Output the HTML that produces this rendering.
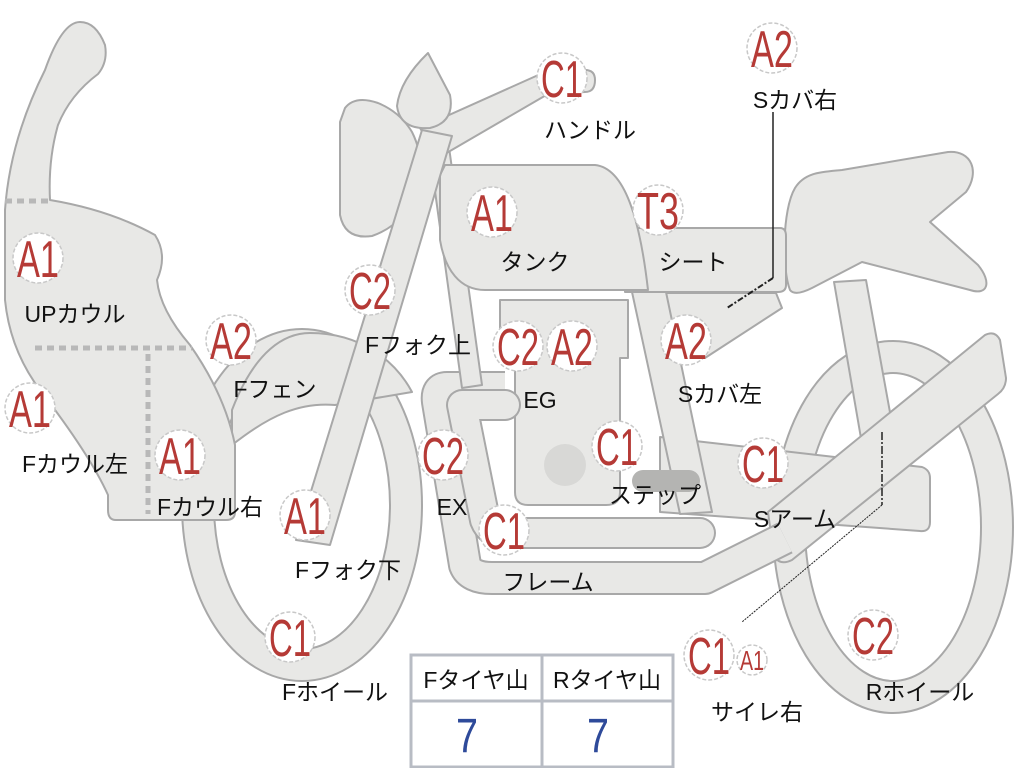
<!DOCTYPE html>
<html><head><meta charset="utf-8"><style>
html,body{margin:0;padding:0;background:#fff;}
svg{display:block}
.s{fill:#e8e8e6;stroke:#a8a8a8;stroke-width:2;stroke-linejoin:round}
.b circle{fill:#fff;stroke:#c8c8c8;stroke-width:1.5;stroke-dasharray:4 2}
.b text{fill:#b53a36;font-family:"Liberation Sans",sans-serif;font-size:52px;text-anchor:middle}
.l{fill:#111;font-family:"Liberation Sans","Noto Sans CJK JP",sans-serif;font-size:23px;text-anchor:middle}
</style></head><body>
<svg width="1024" height="768" viewBox="0 0 1024 768" xmlns="http://www.w3.org/2000/svg">
<ellipse cx="302" cy="505" rx="104" ry="160" fill="none" stroke="#a8a8a8" stroke-width="34"/>
<ellipse cx="302" cy="505" rx="104" ry="160" fill="none" stroke="#e8e8e6" stroke-width="30"/>
<ellipse cx="893" cy="527" rx="104" ry="170" fill="none" stroke="#a8a8a8" stroke-width="34"/>
<ellipse cx="893" cy="527" rx="104" ry="170" fill="none" stroke="#e8e8e6" stroke-width="30"/>
<path class="s" d="M232,445 L232,410 C255,350 285,333 310,333 C360,333 395,360 412,392 L335,405 C300,402 270,415 232,445 Z"/>
<path class="s" d="M834,282 L866,280 L895,440 L862,444 Z"/>
<path class="s" d="M790,290 C782,270 782,210 795,188 C805,172 822,172 842,170 L948,152 C972,150 980,172 966,192 L930,222 L978,265 C992,282 988,296 970,290 L862,262 L812,288 C800,294 793,294 790,290 Z"/>
<path class="s" d="M625,228 L780,228 Q786,228 786,236 L786,285 Q786,292 778,292 L625,292 Z"/>
<path class="s" d="M666,293 L776,293 L782,308 L705,358 L670,350 Z"/>
<path class="s" d="M660,437 L922,467 Q930,470 930,478 L930,522 Q930,532 920,531 L660,512 Z"/>
<path class="s" d="M632,292 L666,292 L712,512 L680,514 Z"/>
<path class="s" d="M768,512 L985,335 Q995,330 1000,340 L1006,378 Q1006,388 998,394 L792,560 Q780,566 774,556 Z"/>
<path class="s" d="M500,300 L628,300 L628,358 L620,358 L620,492 Q620,505 606,505 L528,505 Q515,505 515,492 L515,358 L500,358 Z"/>
<circle cx="565" cy="465" r="21" fill="#d8d8d6"/>
<rect x="632" y="470" width="68" height="22" rx="11" fill="#b4b4b2"/>
<path d="M505,388 L447,388 Q436,388 438,402 L465,565 Q470,578 492,578 L705,578 L785,538" fill="none" stroke="#a8a8a8" stroke-width="34" stroke-linejoin="round"/>
<path d="M505,388 L447,388 Q436,388 438,402 L465,565 Q470,578 492,578 L705,578 L785,538" fill="none" stroke="#e8e8e6" stroke-width="30" stroke-linejoin="round"/>
<path d="M505,405 L462,405 L485,520 Q490,533 505,533 L700,533" fill="none" stroke="#a8a8a8" stroke-width="32" stroke-linecap="round" stroke-linejoin="round"/>
<path d="M505,405 L462,405 L485,520 Q490,533 505,533 L700,533" fill="none" stroke="#e8e8e6" stroke-width="28" stroke-linecap="round" stroke-linejoin="round"/>
<path class="s" d="M428,140 L448,140 L482,385 L462,388 Z"/>
<path class="s" d="M445,165 L595,165 C625,168 640,220 648,290 L485,290 C460,290 445,270 440,240 L440,175 Z"/>
<path class="s" d="M420,128 L545,72 L585,70 Q595,70 595,80 Q595,92 585,92 L548,94 L438,158 Z"/>
<path class="s" d="M345,108 Q355,95 378,103 Q400,112 412,132 Q426,160 418,192 Q402,226 372,236 Q345,240 340,215 L340,122 Z"/>
<path class="s" d="M428,53 L450,95 Q455,122 430,128 Q400,130 397,106 Q400,80 428,53 Z"/>
<path class="s" d="M422,130 L452,136 L330,545 L296,540 Z"/>
<path class="s" d="M80,22 Q96,22 105,45 Q108,62 98,74 Q70,95 58,125 Q48,160 50,200 Q110,210 155,235 Q168,255 157,280 Q160,310 190,345 Q225,395 235,445 L235,512 Q235,520 226,520 L116,520 Q108,520 108,510 L108,495 Q90,455 40,390 Q10,350 5,300 L5,210 Q10,140 45,70 Q62,22 80,22 Z"/>
<g stroke="#b8b8b8" stroke-width="5" stroke-dasharray="7 5" fill="none">
<line x1="5" y1="201" x2="50" y2="201"/>
<line x1="35" y1="348" x2="192" y2="348"/>
<line x1="148" y1="354" x2="148" y2="514"/>
</g>
<polyline points="773,112 773,278" fill="none" stroke="#222" stroke-width="1.5"/>
<line x1="773" y1="278" x2="727" y2="308" stroke="#222" stroke-width="2" stroke-dasharray="6 2 2 2"/>
<line x1="882" y1="432" x2="882" y2="505" stroke="#222" stroke-width="1.5" stroke-dasharray="8 2 2 2"/>
<line x1="882" y1="505" x2="742" y2="622" stroke="#222" stroke-width="1" stroke-dasharray="2 1"/>
<g class="b">
<circle cx="772" cy="48" r="25"/><text x="772" y="67" textLength="42" lengthAdjust="spacingAndGlyphs">A2</text>
<circle cx="562" cy="78" r="25"/><text x="562" y="97" textLength="42" lengthAdjust="spacingAndGlyphs">C1</text>
<circle cx="492" cy="212" r="25"/><text x="492" y="231" textLength="42" lengthAdjust="spacingAndGlyphs">A1</text>
<circle cx="658" cy="210" r="25"/><text x="658" y="229" textLength="42" lengthAdjust="spacingAndGlyphs">T3</text>
<circle cx="38" cy="258" r="25"/><text x="38" y="277" textLength="42" lengthAdjust="spacingAndGlyphs">A1</text>
<circle cx="370" cy="290" r="25"/><text x="370" y="309" textLength="42" lengthAdjust="spacingAndGlyphs">C2</text>
<circle cx="231" cy="340" r="25"/><text x="231" y="359" textLength="42" lengthAdjust="spacingAndGlyphs">A2</text>
<circle cx="518" cy="346" r="25"/><text x="518" y="365" textLength="42" lengthAdjust="spacingAndGlyphs">C2</text>
<circle cx="572" cy="346" r="25"/><text x="572" y="365" textLength="42" lengthAdjust="spacingAndGlyphs">A2</text>
<circle cx="686" cy="340" r="25"/><text x="686" y="359" textLength="42" lengthAdjust="spacingAndGlyphs">A2</text>
<circle cx="30" cy="408" r="25"/><text x="30" y="427" textLength="42" lengthAdjust="spacingAndGlyphs">A1</text>
<circle cx="617" cy="446" r="25"/><text x="617" y="465" textLength="42" lengthAdjust="spacingAndGlyphs">C1</text>
<circle cx="443" cy="455" r="25"/><text x="443" y="474" textLength="42" lengthAdjust="spacingAndGlyphs">C2</text>
<circle cx="180" cy="455" r="25"/><text x="180" y="474" textLength="42" lengthAdjust="spacingAndGlyphs">A1</text>
<circle cx="763" cy="463" r="25"/><text x="763" y="482" textLength="42" lengthAdjust="spacingAndGlyphs">C1</text>
<circle cx="305" cy="515" r="25"/><text x="305" y="534" textLength="42" lengthAdjust="spacingAndGlyphs">A1</text>
<circle cx="504" cy="530" r="25"/><text x="504" y="549" textLength="42" lengthAdjust="spacingAndGlyphs">C1</text>
<circle cx="290" cy="637" r="25"/><text x="290" y="656" textLength="42" lengthAdjust="spacingAndGlyphs">C1</text>
<circle cx="709" cy="655" r="25"/><text x="709" y="674" textLength="42" lengthAdjust="spacingAndGlyphs">C1</text>
<circle cx="752" cy="660" r="15"/><text x="752" y="670" style="font-size:28px" textLength="24" lengthAdjust="spacingAndGlyphs">A1</text>
<circle cx="873" cy="635" r="25"/><text x="873" y="654" textLength="42" lengthAdjust="spacingAndGlyphs">C2</text>
</g>
<g class="l">
<text x="590" y="138">ハンドル</text>
<text x="795" y="108">Sカバ右</text>
<text x="535" y="270">タンク</text>
<text x="693" y="270">シート</text>
<text x="75" y="322">UPカウル</text>
<text x="418" y="353">Fフォク上</text>
<text x="275" y="397">Fフェン</text>
<text x="540" y="408">EG</text>
<text x="720" y="402">Sカバ左</text>
<text x="75" y="472">Fカウル左</text>
<text x="210" y="515">Fカウル右</text>
<text x="655" y="503">ステップ</text>
<text x="452" y="515">EX</text>
<text x="795" y="527">Sアーム</text>
<text x="348" y="578">Fフォク下</text>
<text x="548" y="590">フレーム</text>
<text x="335" y="700">Fホイール</text>
<text x="757" y="720">サイレ右</text>
<text x="920" y="700">Rホイール</text>
</g>
<g fill="none" stroke="#b8bcc4" stroke-width="3">
<rect x="411" y="655" width="262" height="112"/>
<line x1="411" y1="701" x2="673" y2="701"/>
<line x1="542" y1="655" x2="542" y2="767"/>
</g>
<text class="l" x="476" y="688">Fタイヤ山</text>
<text class="l" x="607" y="688">Rタイヤ山</text>
<text x="467" y="752" fill="#2e4a9a" font-family="Liberation Sans,sans-serif" font-size="48" text-anchor="middle" textLength="22" lengthAdjust="spacingAndGlyphs">7</text>
<text x="598" y="752" fill="#2e4a9a" font-family="Liberation Sans,sans-serif" font-size="48" text-anchor="middle" textLength="22" lengthAdjust="spacingAndGlyphs">7</text>
</svg>
</body></html>
